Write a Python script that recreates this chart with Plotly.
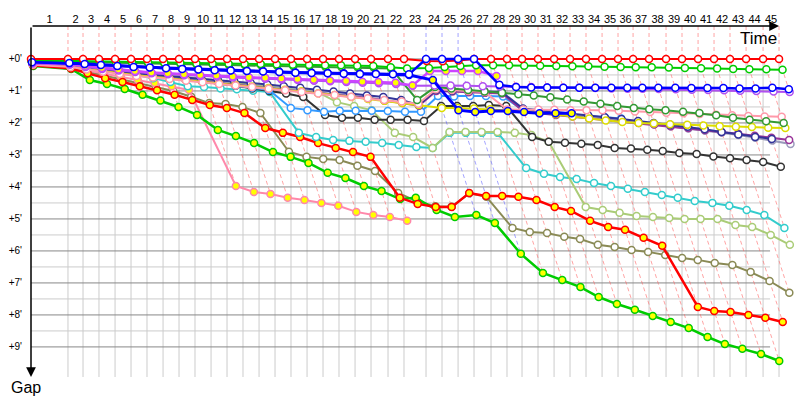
import plotly.graph_objects as go

# ---------------- data ----------------
# leader's cumulative race time (minutes) at the end of each lap, lap 0..45
lap_times = [0.00, 3.59, 5.05, 6.60, 8.16, 9.71, 11.26, 12.82, 14.37, 15.92,
             17.48, 19.03, 20.58, 22.14, 23.69, 25.24, 26.80, 28.35, 29.90, 31.46,
             33.01, 34.66, 36.21, 38.35, 39.90, 41.46, 43.01, 44.66, 46.21, 47.67,
             49.22, 50.78, 52.33, 53.88, 55.44, 56.99, 58.45, 60.00, 61.65, 63.20,
             64.76, 66.31, 67.86, 69.42, 71.07, 72.62]
lap_labels = [str(i) for i in range(1, 46)]
gap_ticks = [0, 1, 2, 3, 4, 5, 6, 7, 8, 9]
gap_labels = ["+0'", "+1'", "+2'", "+3'", "+4'", "+5'", "+6'", "+7'", "+8'", "+9'"]

# gap to the leader (minutes) for each car, index = lap number
red_gap = [0, 0, 0, 0, 0, 0, 0, 0, 0, 0,
           0, 0, 0, 0, 0, 0, 0, 0, 0, 0,
           0, 0, 0, 0.06, 0.07, 0.05, 0, 0, 0, 0,
           0, 0, 0, 0, 0, 0, 0, 0, 0, 0,
           0, 0, 0, 0, 0, 0]
green_gap = [0.04, 0.06, 0.08, 0.09, 0.10, 0.10, 0.11, 0.12, 0.13, 0.14,
             0.15, 0.15, 0.16, 0.16, 0.17, 0.18, 0.19, 0.20, 0.20, 0.21,
             0.22, 0.26, 0.30, 0.28, 0.25, 0.22, 0.20, 0.20, 0.20, 0.21,
             0.21, 0.22, 0.23, 0.23, 0.24, 0.25, 0.26, 0.26, 0.27, 0.28,
             0.29, 0.30, 0.31, 0.32, 0.32, 0.34]
forest_gap = [0.06, 0.08, 0.10, 0.11, 0.12, 0.13, 0.14, 0.15, 0.16, 0.17,
              0.18, 0.19, 0.20, 0.20, 0.21, 0.22, 0.23, 0.24, 0.25, 0.26,
              0.27, 0.30, 1.28, 0.88, 0.92, 0.97, 1.02, 1.06, 1.10, 1.14,
              1.20, 1.27, 1.33, 1.40, 1.47, 1.53, 1.57, 1.60, 1.65, 1.69,
              1.76, 1.84, 1.90, 1.95, 2.00]
blue_y_gap = [0.08, 0.12, 0.15, 0.18, 0.21, 0.24, 0.26, 0.28, 0.30, 0.32,
              0.34, 0.35, 0.37, 0.38, 0.40, 0.42, 0.43, 0.44, 0.45, 0.46,
              0.46, 0.47, 0.50, 0.66, 1.60, 1.66, 1.63, 1.63, 1.66, 1.70,
              1.70, 1.70]
blue_w_gap = [0.10, 0.13, 0.16, 0.19, 0.22, 0.25, 0.27, 0.29, 0.31, 0.33,
              0.35, 0.36, 0.38, 0.39, 0.41, 0.43, 0.44, 0.45, 0.46, 0.47,
              0.47, 0.48, 0.48, 0, 0, 0, 0, 0.81, 0.88, 0.89,
              0.89, 0.90, 0.90, 0.90, 0.90, 0.90, 0.90, 0.90, 0.90, 0.91,
              0.91, 0.91, 0.92, 0.92, 0.90, 0.95]
purple_y_gap = [0.12, 0.15, 0.22, 0.28, 0.33, 0.38, 0.42, 0.45, 0.48, 0.50,
                0.52, 0.55, 0.57, 0.59, 0.61, 0.63, 0.65, 0.67, 0.69, 0.71,
                0.72, 0.74, 0.83, 0.38, 0.38, 0.38, 0.38, 0.53]
purple_w_gap = [0.14, 0.18, 0.25, 0.31, 0.36, 0.41, 0.45, 0.48, 0.51, 0.53,
                0.55, 0.58, 0.60, 0.62, 0.64, 0.66, 0.68, 0.70, 0.72, 0.74,
                0.76, 0.78, 0.84, 0.83, 0.83, 0.84, 0.85, 0.86, 0.87, 0.88,
                0.89, 0.90, 0.90, 0.91, 0.92, 0.93, 0.93, 0.94, 0.95, 0.96,
                0.97, 0.98, 0.99, 1.00, 1.02, 1.03]
navy_gap = [0.13, 0.18, 0.25, 0.32, 0.39, 0.45, 0.49, 0.53, 0.57, 0.61,
            0.65, 0.70, 0.75, 0.80, 0.85, 0.90, 0.96, 1.02, 1.08, 1.14,
            1.19, 1.28, 1.44, 0.97, 0.99, 1.00, 1.01, 1.03, 1.55, 1.60,
            1.65, 1.70, 1.76, 1.82, 1.88, 1.94, 2.00, 2.06, 2.12, 2.20,
            2.28, 2.36, 2.44, 2.50]
gray_gap = [0.15, 0.20, 0.28, 0.35, 0.42, 0.48, 0.53, 0.58, 0.63, 0.68,
            0.73, 0.78, 0.83, 0.88, 0.93, 0.98, 1.03, 1.08, 1.14, 1.20,
            1.28, 1.36, 1.44, 0.97, 0.98, 1.00, 1.02, 1.05, 1.60, 1.65,
            1.70, 1.75, 1.80, 1.86, 1.92, 1.98, 2.04, 2.10, 2.17, 2.24,
            2.30, 2.38, 2.46, 2.55, 2.66]
dpurple_gap = [0.16, 0.22, 0.30, 0.37, 0.44, 0.50, 0.55, 0.60, 0.65, 0.70,
               0.75, 0.80, 0.85, 0.90, 0.95, 1.00, 1.05, 1.10, 1.16, 1.22,
               1.30, 1.38, 1.46, 1.00, 1.02, 1.04, 1.06, 1.08, 1.65, 1.70,
               1.75, 1.80, 1.85, 1.90, 1.95, 2.00, 2.05, 2.10, 2.16, 2.22,
               2.28, 2.34, 2.40, 2.46, 2.53]
yellow_gap = [0.17, 0.23, 0.31, 0.38, 0.45, 0.51, 0.56, 0.61, 0.66, 0.71,
              0.76, 0.81, 0.86, 0.91, 0.96, 1.01, 1.07, 1.13, 1.19, 1.25,
              1.31, 1.38, 1.44, 1.53, 1.53, 1.55, 1.57, 1.60, 1.63, 1.68,
              1.73, 1.80, 1.86, 1.92, 1.97, 2.00, 2.02, 2.04, 2.06, 2.08,
              2.10, 2.12, 2.13, 2.15, 2.16]
lpink_gap = [0.18, 0.25, 0.33, 0.40, 0.47, 0.53, 0.58, 0.63, 0.68, 0.73,
             0.78, 0.83, 0.88, 0.93, 0.98, 1.03, 1.08, 1.13, 1.18, 1.23,
             1.28, 1.33, 1.40, 0.95, 0.97, 1.00, 1.03, 1.58, 1.58, 1.58,
             1.59, 1.60, 1.60, 1.60, 1.62, 1.64, 1.66, 1.68, 1.70, 1.72,
             1.74, 1.76, 1.78, 1.80, 1.81]
lolive_gap = [0.10, 0.14, 0.20, 0.26, 0.32, 0.38, 0.44, 0.50, 0.56, 0.62,
              0.68, 0.74, 0.80, 0.86, 0.92, 0.98, 1.04, 1.35, 1.47, 1.60,
              2.31, 2.44, 2.78, 2.28, 2.28, 2.28, 2.28, 2.31, 2.38, 2.59,
              4.63, 4.72, 4.81, 4.91, 4.94, 4.97, 5.00, 5.00, 5.00, 5.19,
              5.25, 5.50, 5.81]
cyan_gap = [0.12, 0.17, 0.24, 0.32, 0.42, 0.50, 0.60, 0.72, 0.85, 0.88,
            0.92, 0.95, 0.99, 1.03, 2.31, 2.44, 2.53, 2.56, 2.59, 2.63,
            2.69, 2.75, 2.78, 2.31, 2.31, 2.31, 2.31, 3.41, 3.59, 3.69,
            3.75, 3.88, 3.97, 4.06, 4.16, 4.25, 4.34, 4.44, 4.50, 4.59,
            4.72, 4.88, 5.28]
dodger_gap = [0.11, 0.16, 0.23, 0.30, 0.37, 0.44, 0.50, 0.56, 0.62, 0.69,
              0.76, 0.83, 0.90, 0.97, 1.53, 1.60, 1.65, 1.62, 1.62, 1.62,
              1.63, 1.65, 1.65, 1.16, 1.17, 1.16, 1.16, 1.17, 1.62, 1.66,
              1.70, 1.74, 1.78, 1.82, 1.86]
black_gap = [0.14, 0.19, 0.26, 0.33, 0.40, 0.47, 0.53, 0.59, 0.65, 0.71,
             0.77, 0.84, 0.92, 1.00, 1.08, 1.19, 1.75, 1.84, 1.84, 1.90,
             1.90, 1.90, 1.94, 1.47, 1.47, 1.47, 1.44, 1.47, 2.44, 2.59,
             2.62, 2.65, 2.69, 2.78, 2.80, 2.84, 2.88, 2.94, 2.97, 3.05,
             3.10, 3.16, 3.22, 3.37]
red_y_gap = [0.20, 0.30, 0.45, 0.60, 0.72, 0.85, 0.98, 1.12, 1.28, 1.44,
             1.53, 1.69, 2.16, 2.31, 2.44, 2.63, 2.78, 2.91, 3.06, 4.34,
             4.53, 4.63, 4.63, 4.19, 4.28, 4.28, 4.31, 4.41, 4.63, 4.75,
             5.06, 5.25, 5.34, 5.59, 5.84, 7.75, 7.88, 7.91, 8.00, 8.09,
             8.22]
green_y_gap = [0.22, 0.31, 0.66, 0.78, 0.94, 1.12, 1.30, 1.50, 1.75, 2.22,
               2.41, 2.63, 2.91, 3.06, 3.25, 3.56, 3.72, 3.97, 4.13, 4.38,
               4.34, 4.72, 4.94, 4.88, 5.13, 6.09, 6.69, 6.91, 7.13, 7.44,
               7.66, 7.84, 8.03, 8.22, 8.41, 8.69, 8.91, 9.06, 9.22, 9.44]
hpink_gap = [0.20, 0.22, 0.35, 0.45, 0.55, 0.65, 0.75, 0.85, 0.97, 3.97,
             4.16, 4.22, 4.34, 4.41, 4.50, 4.59, 4.78, 4.88, 4.94, 5.06]
olive_gap = [0.18, 0.25, 0.40, 0.52, 0.63, 0.74, 0.86, 1.00, 1.18, 1.38,
             1.41, 1.50, 1.69, 2.90, 3.06, 3.13, 3.16, 3.34, 3.50, 4.19,
             4.45, 4.60, 4.62, 4.20, 4.31, 5.28, 5.41, 5.44, 5.56, 5.63,
             5.81, 5.88, 5.97, 6.03, 6.13, 6.22, 6.28, 6.38, 6.44, 6.66,
             6.94, 7.31]

# ---------------- styles (drawing order: back to front) ----------------
WHITE, YEL = "#ffffff", "#ffff00"
cars = [
    (olive_gap, "#8a8a55", WHITE, 2),
    (hpink_gap, "#ff88aa", YEL, 2),
    (green_y_gap, "#00cc00", YEL, 2.5),
    (red_y_gap, "#ff0000", YEL, 2.5),
    (cyan_gap, "#33cccc", WHITE, 2),
    (lolive_gap, "#aacc77", WHITE, 2),
    (black_gap, "#333333", WHITE, 2),
    (dodger_gap, "#3399ff", WHITE, 2),
    (gray_gap, "#9a9abb", WHITE, 2),
    (dpurple_gap, "#993399", WHITE, 2),
    (navy_gap, "#333399", WHITE, 2),
    (yellow_gap, "#dddd00", WHITE, 2),
    (lpink_gap, "#ff99aa", WHITE, 2),
    (forest_gap, "#339933", WHITE, 2),
    (purple_w_gap, "#b050f0", WHITE, 2),
    (purple_y_gap, "#cc44ff", YEL, 2.5),
    (blue_y_gap, "#0000ff", YEL, 3),
    (green_gap, "#00cc00", WHITE, 2),
    (red_gap, "#ff0000", WHITE, 2),
    (blue_w_gap, "#0000ff", WHITE, 2.5),
]

Y_TOP, Y_BOT = -1.03, 9.94
X_MAX = 74.17
GRID_END = 71.75

fig = go.Figure()

# grid (vertical at lap ends, horizontal every half minute)
vx, vy = [], []
for t in lap_times[1:]:
    vx += [t, t, None]
    vy += [0, Y_BOT, None]
fig.add_trace(go.Scatter(x=vx, y=vy, mode="lines", line=dict(color="#cccccc", width=1),
                         hoverinfo="skip", showlegend=False))
mx, my = [], []
for g in gap_ticks[:-1]:
    mx += [0, GRID_END, None]
    my += [g + 0.5, g + 0.5, None]
fig.add_trace(go.Scatter(x=mx, y=my, mode="lines", line=dict(color="#cccccc", width=1),
                         hoverinfo="skip", showlegend=False))
hx, hy = [], []
for g in gap_ticks:
    hx += [0, GRID_END, None]
    hy += [g, g, None]
fig.add_trace(go.Scatter(x=hx, y=hy, mode="lines", line=dict(color="#888888", width=1),
                         hoverinfo="skip", showlegend=False))

# dashed lap lines: vertical to the leader, then along the lap's crossing times
pk_x, pk_y, bl_x, bl_y = [], [], [], []
for k in range(1, len(lap_times)):
    gaps_k = [c[0][k] for c in cars if len(c[0]) > k]
    gmax = max(gaps_k)
    t = lap_times[k]
    xs = [t, t, t + gmax, None]
    ys = [Y_TOP, 0, gmax, None]
    if blue_w_gap[k] < red_gap[k]:
        bl_x += xs; bl_y += ys
    else:
        pk_x += xs; pk_y += ys
fig.add_trace(go.Scatter(x=pk_x, y=pk_y, mode="lines",
                         line=dict(color="rgba(255,90,90,0.55)", width=1, dash="4px,3px"),
                         hoverinfo="skip", showlegend=False))
fig.add_trace(go.Scatter(x=bl_x, y=bl_y, mode="lines",
                         line=dict(color="rgba(90,90,255,0.55)", width=1, dash="4px,3px"),
                         hoverinfo="skip", showlegend=False))

# cars
for gaps, col, fill, w in cars:
    xs = [lap_times[i] + g for i, g in enumerate(gaps)]
    fig.add_trace(go.Scatter(
        x=xs, y=gaps, mode="lines+markers",
        line=dict(color=col, width=w),
        marker=dict(size=7, color=fill, line=dict(color=col, width=1.5)),
        cliponaxis=False, hoverinfo="skip", showlegend=False))

mid = [(lap_times[i] + lap_times[i + 1]) / 2 for i in range(len(lap_times) - 1)]

fig.update_layout(
    width=800, height=400,
    margin=dict(l=31, r=5, t=26, b=23, autoexpand=False),
    paper_bgcolor="white", plot_bgcolor="white",
    xaxis=dict(range=[0, X_MAX], side="top", showgrid=False, zeroline=False,
               showline=False, tickmode="array", tickvals=mid, ticktext=lap_labels,
               ticks="", automargin=False,
               tickfont=dict(family="Liberation Sans", size=11, color="black")),
    yaxis=dict(range=[Y_BOT, Y_TOP], showgrid=False, zeroline=False, showline=False,
               tickmode="array", tickvals=gap_ticks, ticktext=gap_labels, ticks="",
               ticklabelstandoff=8, automargin=False,
               tickfont=dict(family="Liberation Sans", size=10, color="black")),
    annotations=[
        dict(x=lap_times[-1], y=1, xref="x", yref="paper", text="", showarrow=True,
             ax=-748, ay=0, axref="pixel", ayref="pixel", arrowhead=2, arrowsize=1.3,
             arrowwidth=1.5, arrowcolor="black", standoff=0),
        dict(x=0, y=0, xref="x", yref="paper", text="", showarrow=True,
             ax=0, ay=-351, arrowhead=2, arrowsize=1.3,
             arrowwidth=1.5, arrowcolor="black", standoff=0),
        dict(x=lap_times[-1], y=1, xref="x", yref="paper", text="Time", showarrow=False,
             xanchor="right", yanchor="top", yshift=-1,
             font=dict(family="Liberation Sans", size=17, color="black")),
        dict(x=0, y=0, xref="x", yref="paper", text="Gap", showarrow=False,
             xanchor="center", yanchor="top", xshift=-5, yshift=0,
             font=dict(family="Liberation Sans", size=16, color="black")),
    ],
)

fig.write_html("out.html", config={"displayModeBar": False, "staticPlot": True},
               post_script="document.body.style.margin='0px';document.body.style.padding='0px';")
